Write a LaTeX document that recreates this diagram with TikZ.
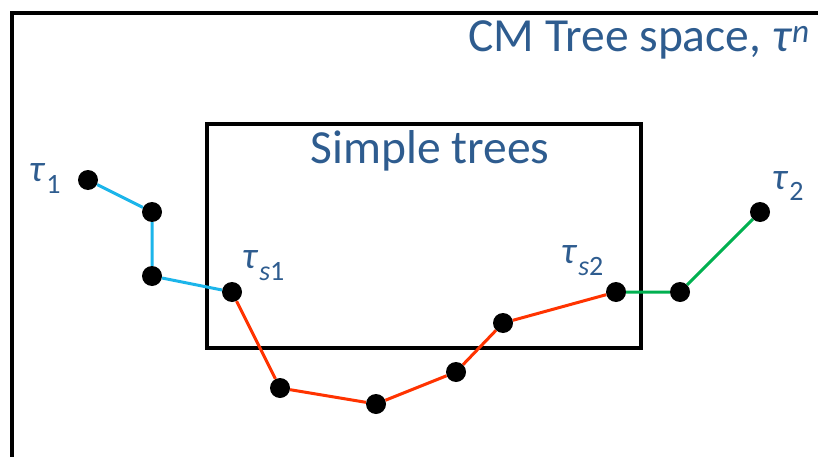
\documentclass[tikz,border=0pt]{standalone}
\usepackage{fontspec}
\setmainfont{Carlito}
\definecolor{txt}{HTML}{2E5C8F}
\definecolor{cblue}{HTML}{1CB5EA}
\definecolor{cred}{HTML}{FF3300}
\definecolor{cgreen}{HTML}{00B050}
\newcommand{\taulab}[1]{{\fontsize{38}{40}\selectfont\textit{τ}}\kern1pt\raisebox{-12pt}{\fontsize{28}{30}\selectfont #1}}
\begin{document}
\begin{tikzpicture}[x=1pt,y=-1pt,
  dot/.style={circle,fill=black,inner sep=0pt,minimum size=20pt},
  lab/.style={text=txt,inner sep=0pt,font=\fontsize{47.5}{50}\selectfont},
  slab/.style={text=txt,inner sep=0pt},
  frame/.style={draw=black,line width=4pt},
  seg/.style={line width=3pt}]
\useasboundingbox (0,0) rectangle (818,457);
\clip (0,0) rectangle (818,457);
\fill[white] (0,0) rectangle (818,457);
\draw[frame] (12,13) rectangle (840,480);
\draw[frame] (207,124) rectangle (641,348);
\node[lab,anchor=base east] (title) at (810,52) {CM Tree space, \textit{τ}\textsuperscript{\textit{n}}};
\node[lab,anchor=base] (simple) at (430,164) {Simple trees};
\node[dot] (p1) at (88,180) {};
\node[dot] (p2) at (152,212) {};
\node[dot] (p3) at (152,276) {};
\node[dot] (p4) at (232,292) {};
\node[dot] (p5) at (280,388) {};
\node[dot] (p6) at (376,404) {};
\node[dot] (p7) at (456,372) {};
\node[dot] (p8) at (503,323) {};
\node[dot] (p9) at (616,292) {};
\node[dot] (p10) at (680,292) {};
\node[dot] (p11) at (760,212) {};
\draw[seg,cblue] (p1) -- (p2) -- (p3) -- (p4);
\draw[seg,cred] (p4) -- (p5) -- (p6) -- (p7) -- (p8) -- (p9);
\draw[seg,cgreen] (p9) -- (p10) -- (p11);
\node[slab,anchor=base west] (t1) at (29,182) {\taulab{1}};
\node[slab,anchor=base west] (t2) at (772,189) {\taulab{2}};
\node[slab,anchor=base west] (ts1) at (242,268) {\taulab{\textit{s}1}};
\node[slab,anchor=base west] (ts2) at (561,263) {\taulab{\textit{s}2}};
\end{tikzpicture}
\end{document}
